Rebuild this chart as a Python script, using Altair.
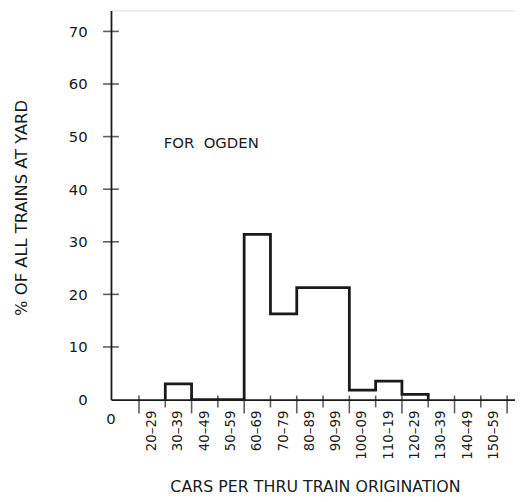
import altair as alt
import pandas as pd

# ---- data ----
bin_starts = [20, 30, 40, 50, 60, 70, 80, 90, 100, 110, 120, 130, 140, 150]
bin_labels = ["20–29", "30–39", "40–49", "50–59", "60–69", "70–79", "80–89",
              "90–99", "100–09", "110–19", "120–29", "130–39", "140–49", "150–59"]
pct_values = [0, 3.0, 0, 0, 31.4, 16.3, 21.3, 21.3, 1.8, 3.5, 1.0, 0, 0, 0]
y_ticks = [10, 20, 30, 40, 50, 60, 70]
y_labels = [0, 10, 20, 30, 40, 50, 60, 70]
note_text = "FOR\u00a0 OGDEN"
x_title = "CARS PER THRU TRAIN ORIGINATION"
y_title = "% OF ALL TRAINS AT YARD"

BIN_W = 10
X_MIN, X_MAX = 9.35, 163
Y_MIN, Y_MAX = 0, 74
FONT = "DejaVu Sans"
INK = "#1a1a1a"

# step outline of the histogram (only where the series is drawn)
nz = [i for i, v in enumerate(pct_values) if v > 0]
first, last = nz[0], nz[-1]
step_x = [bin_starts[first]] + bin_starts[first:last + 1] + [bin_starts[last] + BIN_W]
step_y = [0] + pct_values[first:last + 1] + [0]
step_df = pd.DataFrame({"x": step_x, "y": step_y})

edges = bin_starts + [bin_starts[-1] + BIN_W]
edge_df = pd.DataFrame({"edge": edges})
label_df = pd.DataFrame({"c": [s + BIN_W / 2 for s in bin_starts], "lab": bin_labels})
ytick_df = pd.DataFrame({"v": y_ticks})

xs = alt.Scale(domain=[X_MIN, X_MAX], nice=False, zero=False)
ys = alt.Scale(domain=[Y_MIN, Y_MAX], nice=False, zero=False)

x_axis = alt.Axis(
    values=[], ticks=False, labels=False, grid=False,
    domainColor=INK, domainWidth=1.8,
    title=x_title, titleFont=FONT, titleFontSize=16, titleFontWeight="normal",
    titleColor=INK, titleX=206, titleY=93, titleBaseline="alphabetic",
    titleAnchor="start", titleAlign="center",
)
y_axis = alt.Axis(
    values=y_labels, ticks=False, grid=False, labelPadding=24,
    labelFont=FONT, labelFontSize=15, labelColor=INK,
    domainColor=INK, domainWidth=1.8,
    title=y_title, titleFont=FONT, titleFontSize=16.5, titleFontWeight="normal",
    titleColor=INK, titleX=-90, titleY=199, titleAngle=270,
    titleAlign="center", titleBaseline="middle",
)

line = alt.Chart(step_df).mark_line(
    interpolate="step-after", color=INK, strokeWidth=2.8, strokeJoin="miter"
).encode(
    x=alt.X("x:Q", scale=xs, axis=x_axis),
    y=alt.Y("y:Q", scale=ys, axis=y_axis),
)

long_ticks = alt.Chart(edge_df).transform_filter("datum.edge % 20 == 0").mark_tick(
    orient="vertical", size=18, thickness=1.6, yOffset=5, color=INK
).encode(x=alt.X("edge:Q", scale=xs), y=alt.datum(0, scale=ys))

short_ticks = alt.Chart(edge_df).transform_filter("datum.edge % 20 != 0").mark_tick(
    orient="vertical", size=12, thickness=1.6, yOffset=2, color=INK
).encode(x=alt.X("edge:Q", scale=xs), y=alt.datum(0, scale=ys))

y_tick_marks = alt.Chart(ytick_df).mark_tick(
    orient="horizontal", size=16, thickness=1.6, color=INK
).encode(x=alt.datum(X_MIN, scale=xs), y=alt.Y("v:Q", scale=ys))

bin_text = alt.Chart(label_df).mark_text(
    font=FONT, fontSize=13.5, color=INK, angle=270, align="right",
    baseline="middle", dx=-11
).encode(x=alt.X("c:Q", scale=xs), y=alt.datum(0, scale=ys), text="lab:N")

origin = alt.Chart(pd.DataFrame({"t": ["0"]})).mark_text(
    font=FONT, fontSize=15, color=INK, dy=20, baseline="middle", align="center"
).encode(x=alt.datum(X_MIN, scale=xs), y=alt.datum(0, scale=ys), text="t:N")

note = alt.Chart(pd.DataFrame({"t": [note_text], "x": [29.4], "y": [48.8]})).mark_text(
    font=FONT, fontSize=15, color=INK, align="left", baseline="middle"
).encode(x=alt.X("x:Q", scale=xs), y=alt.Y("y:Q", scale=ys), text="t:N")

chart = alt.layer(line, long_ticks, short_ticks, y_tick_marks, bin_text, origin, note).properties(
    width=408, height=393, autosize="none",
    padding={"left": 104, "top": 0, "right": 0, "bottom": 96},
).configure_view(stroke=None).configure(background="white")

chart.save("out.html", embed_options={"renderer": "svg", "actions": False})
